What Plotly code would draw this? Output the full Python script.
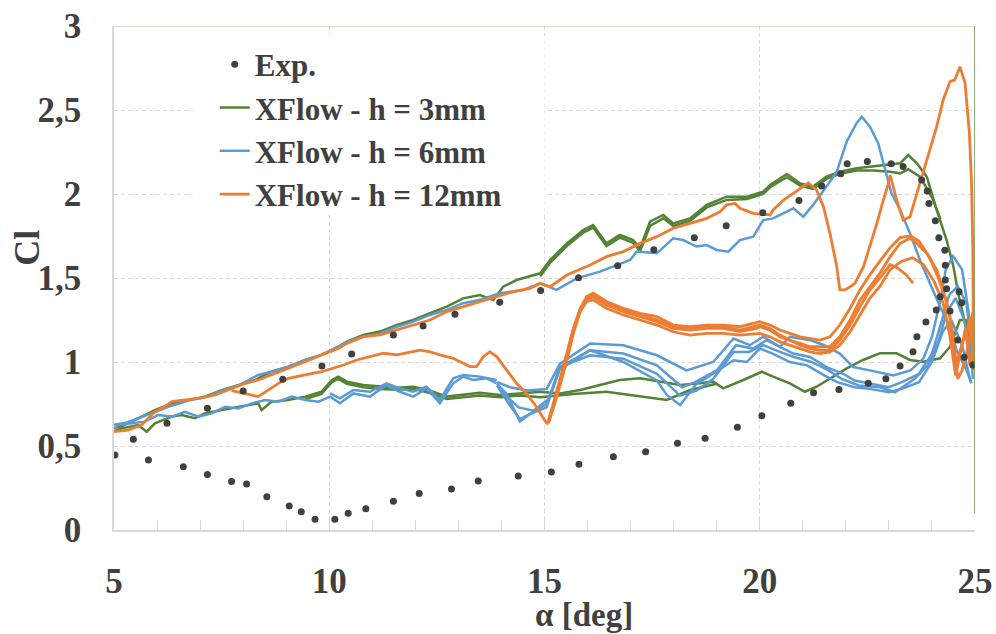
import plotly.graph_objects as go

# ---------------- Experimental data ----------------
exp_alpha = [5.45, 6.23, 7.17, 8.00, 8.92, 9.83, 10.52, 11.49, 12.18, 12.92, 13.96, 14.91, 15.79, 16.70,
             17.54, 18.48, 19.22, 20.07, 20.91, 21.44, 21.88, 22.03, 22.50, 23.05, 23.33, 23.76, 23.89,
             23.93, 24.08, 24.16, 24.30, 24.31, 24.31, 24.34, 24.19, 24.63, 24.69, 24.42, 24.60, 24.75,
             24.95,
             24.10, 23.86, 23.65, 23.56, 23.26, 22.93, 22.52, 21.84, 21.25, 20.72, 20.05, 19.48, 18.73,
             18.09, 17.35, 16.60, 15.80, 15.16, 14.39, 13.46, 12.84, 12.09, 11.49, 10.85, 10.44, 10.13,
             9.67, 9.35, 9.07, 8.55, 8.08, 7.73, 7.17, 6.61, 5.80, 5.02]
exp_cl = [0.54, 0.635, 0.724, 0.827, 0.897, 0.976, 1.048, 1.161, 1.214, 1.284, 1.355, 1.425, 1.502, 1.573,
          1.668, 1.74, 1.811, 1.889, 1.962, 2.048, 2.121, 2.18, 2.194, 2.18, 2.163, 2.083, 2.018,
          1.944, 1.841, 1.74, 1.665, 1.576, 1.488, 1.436, 1.389, 1.418, 1.353, 1.303, 1.131, 1.028,
          0.982,
          1.31, 1.238, 1.151, 1.061, 0.976, 0.901, 0.873, 0.837, 0.817, 0.754, 0.68, 0.611, 0.546,
          0.516, 0.466, 0.436, 0.391, 0.345, 0.321, 0.292, 0.244, 0.218, 0.171, 0.127, 0.099, 0.064,
          0.064, 0.109, 0.143, 0.198, 0.274, 0.288, 0.33, 0.377, 0.417, 0.446]

# ---------------- XFlow h = 3mm (green) ----------------
g_up_a = [4.98, 5.2, 5.56, 5.95, 6.34, 6.73, 7.11, 7.50, 7.89, 8.28, 8.66, 9.05, 9.44, 9.82, 10.21, 10.41,
          10.79, 11.18, 11.57, 11.95, 12.34, 12.73, 13.11, 13.50, 13.81, 14.04, 14.35, 14.66, 14.90, 15.13,
          15.52, 15.90, 16.13, 16.44, 16.75, 17.06, 17.22, 17.45, 17.76, 17.99, 18.38, 18.77, 19.23, 19.70,
          20.08, 20.24, 20.63, 20.94, 21.24, 21.55, 21.86, 22.25, 22.64, 23.03, 23.26, 23.45, 23.65, 23.88,
          24.11, 24.34, 24.50, 24.61, 24.73, 24.84, 24.95]
g_up_c = [0.605, 0.62, 0.665, 0.714, 0.754, 0.774, 0.794, 0.833, 0.863, 0.893, 0.942, 0.972, 1.012, 1.042,
          1.091, 1.121, 1.161, 1.181, 1.22, 1.25, 1.29, 1.329, 1.379, 1.399, 1.369, 1.448, 1.488, 1.508,
          1.528, 1.607, 1.706, 1.786, 1.815, 1.706, 1.756, 1.726, 1.677, 1.835, 1.875, 1.825, 1.855, 1.935,
          1.984, 1.984, 2.014, 2.054, 2.119, 2.063, 2.044, 2.103, 2.133, 2.153, 2.163, 2.177, 2.183, 2.232,
          2.183, 2.103, 1.905, 1.726, 1.567, 1.409, 1.27, 1.151, 1.10]
g_up2_a = [14.90, 15.13, 15.52, 15.90, 16.13, 16.44, 16.75, 17.06, 17.22, 17.45, 17.76, 17.99, 18.38, 18.77,
           19.23, 19.70, 20.08, 20.24, 20.63, 20.94, 21.24, 21.55, 21.86, 22.25, 22.64, 23.03, 23.26, 23.45,
           23.72, 24.0, 24.2]
g_up2_c = [1.51, 1.59, 1.69, 1.77, 1.80, 1.69, 1.74, 1.71, 1.66, 1.81, 1.855, 1.81, 1.84, 1.92,
           1.965, 1.97, 2.00, 2.04, 2.10, 2.05, 2.03, 2.09, 2.12, 2.14, 2.14, 2.133, 2.123, 2.147,
           2.103, 1.98, 1.85]
g_lo_a = [24.95, 24.80, 24.65, 24.57, 24.42, 24.19, 23.80, 23.49, 23.18, 22.79, 22.40, 22.02, 21.63, 21.32,
          21.05, 20.70, 20.31, 20.05, 19.62, 19.15, 18.92, 18.61, 18.15, 17.68, 17.22, 16.75, 16.29, 15.83,
          15.36, 14.90, 14.43, 13.97, 13.50, 13.11, 12.73, 12.34, 11.95, 11.57, 11.18, 10.79, 10.41, 10.21,
          10.06, 9.82, 9.44, 9.05, 8.66, 8.43, 8.35, 7.89, 7.50, 7.11, 6.88, 6.57, 6.34, 5.95, 5.76, 5.56,
          5.18, 4.98]
g_lo_c = [1.10, 1.25, 1.25, 1.19, 1.091, 1.022, 1.002, 1.012, 1.052, 1.052, 1.012, 0.962, 0.903, 0.853,
          0.823, 0.873, 0.913, 0.942, 0.893, 0.843, 0.883, 0.873, 0.863, 0.883, 0.903, 0.893, 0.863, 0.833,
          0.813, 0.823, 0.813, 0.804, 0.817, 0.804, 0.794, 0.829, 0.853, 0.847, 0.853, 0.863, 0.883, 0.913,
          0.893, 0.823, 0.794, 0.774, 0.764, 0.714, 0.754, 0.734, 0.714, 0.694, 0.665, 0.685, 0.675, 0.635,
          0.585, 0.625, 0.605, 0.585]
g_lo2_a = [19.0, 18.38, 17.84, 17.22, 16.44, 15.67, 14.90, 14.43, 13.97, 13.50, 13.11, 12.73, 12.34, 11.95,
           11.57, 11.18, 10.79, 10.41, 10.21, 10.06, 9.82, 9.44]
g_lo2_c = [0.87, 0.833, 0.774, 0.794, 0.823, 0.81, 0.79, 0.80, 0.79, 0.80, 0.79, 0.78, 0.815, 0.84,
           0.835, 0.84, 0.85, 0.87, 0.90, 0.88, 0.81, 0.78]

# ---------------- XFlow h = 6mm (blue) ----------------
b_up_a = [4.98, 5.3, 5.56, 5.95, 6.34, 6.73, 7.11, 7.50, 7.89, 8.35, 8.66, 9.05, 9.44, 9.82, 10.21, 10.41,
          10.79, 11.18, 11.57, 11.95, 12.34, 12.73, 13.11, 13.50, 13.96, 14.51, 14.90, 15.28, 15.75, 16.29,
          16.68, 16.99, 17.14, 17.61, 17.99, 18.22, 18.53, 18.77, 19.00, 19.27, 19.54, 19.85, 20.08, 20.31,
          20.63, 20.78, 21.01, 21.24, 21.55, 21.79, 22.02, 22.25, 22.37, 22.56, 22.75, 22.91, 23.06, 23.26,
          23.49, 23.72, 23.95, 24.19, 24.42, 24.57, 24.80, 24.92]
b_up_c = [0.625, 0.64, 0.665, 0.704, 0.74, 0.77, 0.79, 0.83, 0.86, 0.923, 0.942, 0.972, 1.012, 1.042,
          1.09, 1.12, 1.15, 1.17, 1.21, 1.24, 1.28, 1.31, 1.35, 1.37, 1.409, 1.429, 1.468, 1.429, 1.498,
          1.538, 1.577, 1.607, 1.657, 1.647, 1.736, 1.726, 1.687, 1.696, 1.667, 1.657, 1.726, 1.746, 1.845,
          1.855, 1.895, 1.915, 1.865, 1.935, 2.044, 2.133, 2.312, 2.421, 2.46, 2.401, 2.302, 2.143, 2.004,
          1.905, 1.766, 1.607, 1.468, 1.329, 1.21, 1.071, 0.952, 0.873]
b_l1_a = [24.95, 24.85, 24.70, 24.49, 24.32, 24.18, 24.0, 23.8, 23.5, 23.1, 22.56, 22.17, 21.86, 21.5,
          21.17, 20.70, 20.47, 20.08, 19.77, 19.39, 18.92, 18.30, 17.61, 16.83, 16.06, 15.36, 15.05, 14.6,
          14.2, 13.9]
b_l1_c = [0.90, 1.30, 1.55, 1.63, 1.55, 1.35, 1.15, 1.02, 0.95, 0.92, 0.95, 0.97, 1.05, 1.10,
          1.13, 1.15, 1.09, 1.15, 1.10, 1.14, 1.00, 0.95, 1.04, 1.10, 1.11, 0.99, 0.84, 0.83,
          0.85, 0.88]
b_l2_a = [24.97, 24.80, 24.60, 24.40, 24.20, 24.0, 23.7, 23.3, 23.0, 22.56, 22.2, 21.94, 21.55, 21.17,
          20.78, 20.47, 20.16, 19.85, 19.45, 19.0, 18.5, 18.2, 17.61, 16.83, 16.06, 15.5, 15.36, 15.1,
          14.74, 14.4, 14.1, 13.9]
b_l2_c = [1.00, 1.35, 1.45, 1.40, 1.22, 1.05, 0.93, 0.88, 0.85, 0.87, 0.89, 0.93, 0.97, 1.03,
          1.05, 1.09, 1.13, 1.08, 1.10, 0.95, 0.88, 0.85, 0.98, 1.05, 1.07, 0.98, 0.96, 0.78,
          0.71, 0.73, 0.80, 0.87]
b_l3_a = [24.95, 24.75, 24.55, 24.35, 24.15, 23.9, 23.6, 23.14, 22.8, 22.3, 21.9, 21.6, 21.2, 20.8,
          20.47, 20.08, 19.75, 19.39, 18.92, 18.53, 18.15, 17.61, 16.83, 16.06, 15.36, 15.05, 14.66, 14.43,
          14.2, 13.9]
b_l3_c = [0.95, 1.25, 1.38, 1.30, 1.12, 0.98, 0.90, 0.82, 0.85, 0.86, 0.90, 0.95, 1.00, 1.03,
          1.06, 1.10, 1.06, 1.06, 0.90, 0.83, 0.80, 0.93, 1.02, 1.04, 0.97, 0.75, 0.69, 0.66,
          0.74, 0.86]
b_l4_a = [24.9, 24.7, 24.45, 24.25, 24.0, 23.7, 23.3, 23.0, 22.56, 22.2, 21.8, 21.5, 21.1, 20.7,
          20.3, 20.0, 19.7, 19.39, 18.92, 18.53, 18.15, 17.84, 17.61, 16.83, 16.06, 15.36, 15.05, 14.66,
          14.43, 14.12, 13.9]
b_l4_c = [0.88, 1.10, 1.25, 1.18, 1.00, 0.88, 0.84, 0.82, 0.84, 0.85, 0.88, 0.92, 0.98, 1.00,
          1.05, 1.08, 1.00, 1.01, 0.93, 0.87, 0.744, 0.804, 0.89, 1.00, 1.07, 0.97, 0.73, 0.69,
          0.645, 0.81, 0.87]
b_lc_a = [13.89, 13.66, 13.34, 13.11, 12.88, 12.57, 12.26, 11.95, 11.64, 11.33, 10.95, 10.56, 10.25, 10.02,
          9.75, 9.44, 9.13, 8.82, 8.51, 8.20, 7.89, 7.58, 7.27, 6.96, 6.65, 6.34, 6.03, 5.72, 5.41, 5.10,
          4.98]
b_lc_c = [0.873, 0.903, 0.893, 0.913, 0.873, 0.754, 0.843, 0.794, 0.823, 0.863, 0.794, 0.813, 0.754, 0.794,
          0.764, 0.774, 0.794, 0.764, 0.774, 0.754, 0.724, 0.734, 0.694, 0.675, 0.704, 0.675, 0.685, 0.645,
          0.635, 0.625, 0.60]
b_lc2_a = [13.89, 13.50, 13.11, 12.88, 12.57, 12.26, 11.95, 11.64, 11.33, 10.95, 10.56, 10.25, 10.02]
b_lc2_c = [0.893, 0.913, 0.923, 0.903, 0.774, 0.853, 0.823, 0.843, 0.873, 0.823, 0.833, 0.784, 0.813]

# ---------------- XFlow h = 12mm (orange) ----------------
o_up_a = [4.98, 5.33, 5.64, 5.95, 6.18, 6.34, 6.65, 6.96, 7.35, 7.73, 8.04, 8.35, 8.66, 9.05, 9.44, 9.82,
          10.21, 10.41, 10.79, 11.18, 11.57, 11.95, 12.34, 12.73, 13.11, 13.50, 13.89, 14.28, 14.66, 14.90,
          15.13, 15.52, 16.06, 16.44, 16.83, 17.22, 17.61, 17.99, 18.38, 18.77, 19.08, 19.23, 19.43, 19.54,
          19.85, 20.24, 20.31, 20.55, 20.78, 21.01, 21.13, 21.32, 21.48, 21.63, 21.79, 21.86, 21.98, 22.10,
          22.21, 22.41, 22.56, 22.72, 22.87, 22.99, 23.03, 23.18, 23.33, 23.49, 23.65, 23.88, 24.11, 24.26,
          24.42, 24.53, 24.65, 24.77, 24.87, 24.92, 24.95, 24.96, 24.97]
o_up_c = [0.585, 0.595, 0.625, 0.704, 0.734, 0.764, 0.774, 0.784, 0.804, 0.843, 0.873, 0.893, 0.923, 0.962,
          1.002, 1.042, 1.081, 1.111, 1.151, 1.161, 1.19, 1.22, 1.25, 1.30, 1.329, 1.359, 1.389, 1.419,
          1.438, 1.468, 1.448, 1.518, 1.577, 1.627, 1.657, 1.706, 1.746, 1.796, 1.825, 1.855, 1.895, 1.935,
          1.944, 1.915, 1.885, 1.875, 1.905, 1.964, 2.004, 2.044, 2.067, 2.024, 1.925, 1.766, 1.567, 1.429,
          1.429, 1.448, 1.468, 1.567, 1.687, 1.825, 1.964, 2.063, 2.113, 1.964, 1.845, 1.865, 2.004, 2.202,
          2.401, 2.56, 2.669, 2.679, 2.758, 2.659, 2.361, 2.063, 1.667, 1.171, 0.95]
o_l1_a = [24.97, 24.88, 24.80, 24.73, 24.57, 24.50, 24.42, 24.26, 24.11, 23.88, 23.65, 23.49, 23.26, 23.03,
          22.79, 22.56, 22.33, 22.10, 21.86, 21.63, 21.40, 21.17, 20.94, 20.78, 20.47, 20.24, 20.0, 19.93,
          19.54, 19.15, 18.77, 18.38, 17.99, 17.61, 17.22, 16.83, 16.44, 16.13, 15.98, 15.83, 15.67, 15.52,
          15.36, 15.20, 15.09]
o_l1_c = [1.0, 1.27, 1.15, 1.131, 0.992, 1.071, 1.27, 1.429, 1.548, 1.647, 1.706, 1.736, 1.706, 1.627,
          1.528, 1.448, 1.369, 1.25, 1.151, 1.091, 1.091, 1.091, 1.111, 1.121, 1.151, 1.19, 1.21, 1.20,
          1.181, 1.20, 1.20, 1.19, 1.20, 1.24, 1.27, 1.30, 1.339, 1.389, 1.369, 1.309, 1.19, 1.032,
          0.873, 0.734, 0.635]
o_l2_a = [24.95, 24.85, 24.70, 24.60, 24.50, 24.35, 24.15, 23.95, 23.70, 23.50, 23.26, 23.03, 22.79, 22.56,
          22.33, 22.10, 21.86, 21.63, 21.40, 21.17, 20.94, 20.70, 20.47, 20.24, 20.0, 19.54, 19.15, 18.77,
          18.38, 17.99, 17.61, 17.22, 16.83, 16.44, 16.13, 15.98, 15.83, 15.67, 15.52, 15.36, 15.20, 15.09]
o_l2_c = [1.30, 1.10, 0.95, 0.90, 1.15, 1.35, 1.50, 1.62, 1.72, 1.75, 1.74, 1.68, 1.60, 1.52,
          1.43, 1.32, 1.22, 1.15, 1.13, 1.14, 1.15, 1.17, 1.19, 1.22, 1.24, 1.21, 1.22, 1.22,
          1.21, 1.22, 1.27, 1.29, 1.32, 1.36, 1.41, 1.39, 1.32, 1.20, 1.05, 0.90, 0.75, 0.65]
o_l3_a = [24.97, 24.88, 24.78, 24.66, 24.55, 24.42, 24.26, 24.05, 23.80, 23.55, 23.30, 23.03, 22.79, 22.56,
          22.33, 22.10, 21.86, 21.63, 21.40, 21.17, 20.94, 20.70, 20.47, 20.24, 20.0, 19.54, 19.15, 18.77,
          18.38, 17.99, 17.61, 17.22, 16.83, 16.44, 16.13, 15.98, 15.83, 15.67, 15.52, 15.36, 15.20, 15.09]
o_l3_c = [1.10, 0.98, 1.20, 1.05, 0.92, 1.15, 1.35, 1.48, 1.58, 1.62, 1.60, 1.55, 1.45, 1.38,
          1.28, 1.18, 1.10, 1.06, 1.05, 1.06, 1.08, 1.10, 1.12, 1.15, 1.17, 1.16, 1.17, 1.17,
          1.16, 1.18, 1.22, 1.25, 1.28, 1.32, 1.37, 1.36, 1.30, 1.17, 1.01, 0.86, 0.72, 0.64]
o_l4_a = [23.56, 23.40, 23.20, 23.03, 22.79, 22.56, 22.33, 22.10, 21.86, 21.63, 21.40, 21.17, 20.94, 20.70,
          20.47, 20.24, 20.0, 19.54, 19.15, 18.77, 18.38, 17.99, 17.61, 17.22, 16.83, 16.44, 16.13, 15.98,
          15.83, 15.67, 15.52, 15.36, 15.20, 15.09]
o_l4_c = [1.47, 1.52, 1.56, 1.58, 1.50, 1.43, 1.33, 1.22, 1.13, 1.07, 1.07, 1.08, 1.10, 1.13,
          1.16, 1.20, 1.22, 1.19, 1.21, 1.21, 1.20, 1.21, 1.25, 1.28, 1.31, 1.35, 1.40, 1.38,
          1.31, 1.19, 1.04, 0.88, 0.74, 0.64]
o_lc_a = [15.09, 15.05, 14.81, 14.58, 14.35, 14.12, 13.89, 13.73, 13.58, 13.42, 13.27, 13.11, 12.88, 12.57,
          12.34, 12.11, 11.80, 11.57, 11.26, 10.95, 10.64, 10.33, 10.21, 9.82, 9.44, 9.05, 8.82, 8.35,
          8.04, 7.73]
o_lc_c = [0.635, 0.635, 0.734, 0.813, 0.873, 0.952, 1.032, 1.061, 1.032, 0.972, 0.972, 0.992, 1.022, 1.042,
          1.061, 1.071, 1.052, 1.042, 1.052, 1.032, 1.012, 0.982, 0.972, 0.942, 0.923, 0.903, 0.873, 0.794,
          0.813, 0.83]

# ---------------- Axis ticks ----------------
x_ticks = [5, 10, 15, 20, 25]
y_ticks = [0, 0.5, 1, 1.5, 2, 2.5, 3]
y_labels = ["0", "0,5", "1", "1,5", "2", "2,5", "3"]

GREEN = "#548235"
BLUE = "#5B9BD5"
ORANGE = "#ED7D31"
DARK = "#404040"
FONT = "Liberation Serif"


def join(*segs):
    xs, ys = [], []
    for a, c in segs:
        xs += list(a) + [None]
        ys += list(c) + [None]
    return xs, ys


fig = go.Figure()

gx, gy = join((g_up_a, g_up_c), (g_up2_a, g_up2_c), (g_lo_a, g_lo_c), (g_lo2_a, g_lo2_c))
fig.add_trace(go.Scatter(x=gx, y=gy, mode="lines", name="XFlow - h = 3mm",
                         line=dict(color=GREEN, width=2.5), legendrank=2))

bx, by = join((b_up_a, b_up_c), (b_l1_a, b_l1_c), (b_l2_a, b_l2_c), (b_l3_a, b_l3_c),
              (b_l4_a, b_l4_c), (b_lc_a, b_lc_c), (b_lc2_a, b_lc2_c))
fig.add_trace(go.Scatter(x=bx, y=by, mode="lines", name="XFlow - h = 6mm",
                         line=dict(color=BLUE, width=2.5), legendrank=3))

ox, oy = join((o_up_a, o_up_c), (o_l1_a, o_l1_c), (o_l2_a, o_l2_c), (o_l3_a, o_l3_c),
              (o_l4_a, o_l4_c), (o_lc_a, o_lc_c))
fig.add_trace(go.Scatter(x=ox, y=oy, mode="lines", name="XFlow - h = 12mm",
                         line=dict(color=ORANGE, width=2.8), legendrank=4))

fig.add_trace(go.Scatter(x=exp_alpha, y=exp_cl, mode="markers", name="Exp.",
                         marker=dict(color=DARK, size=7), legendrank=1))

fig.update_layout(
    width=996, height=634,
    margin=dict(l=114, r=21, t=26, b=104, autoexpand=False),
    paper_bgcolor="white", plot_bgcolor="white",
    font=dict(family=FONT, color=DARK, size=31, weight="bold"),
    showlegend=True,
    legend=dict(x=0.117, y=0.977, xanchor="left", yanchor="top",
                bgcolor="rgba(0,0,0,0)", font=dict(size=31, family=FONT, color=DARK, weight="bold"),
                tracegroupgap=0, itemwidth=30),
    xaxis=dict(range=[5, 25], tickvals=x_ticks, showgrid=True, gridcolor="#D9D9D9",
               griddash="4px,3px", gridwidth=1, showline=True, linecolor="#D9D9D9", linewidth=1.5,
               ticks="inside", ticklen=10, tickcolor="#D9D9D9", automargin=False,
               minor=dict(dtick=1, ticks="inside", ticklen=10, tickcolor="#D9D9D9", showgrid=False),
               tickfont=dict(size=35, family=FONT, color=DARK, weight="bold"),
               ticklabelstandoff=19, zeroline=False, fixedrange=True),
    yaxis=dict(range=[0, 3], tickvals=y_ticks, ticktext=y_labels, showgrid=True, gridcolor="#D9D9D9",
               griddash="4px,3px", gridwidth=1, showline=True, linecolor="#D9D9D9", linewidth=1.5,
               ticks="", tickfont=dict(size=35, family=FONT, color=DARK, weight="bold"), automargin=False,
               ticklabelstandoff=24, zeroline=False, fixedrange=True),
    shapes=[
        dict(type="rect", xref="x", yref="y", x0=6.83, x1=15.0, y0=1.875, y1=2.946,
             fillcolor="white", line=dict(width=0), layer="between"),
        dict(type="line", xref="x", yref="y", x0=5, x1=25, y0=3, y1=3,
             line=dict(color="#A8C596", width=1.2), layer="above"),
        dict(type="line", xref="x", yref="y", x0=25, x1=25, y0=0.1, y1=3,
             line=dict(color="#5E8F45", width=1.4), layer="above"),
    ],
    annotations=[
        dict(text="α [deg]", xref="paper", yref="paper", x=0.546, y=-0.168, xanchor="center",
             yanchor="middle", showarrow=False,
             font=dict(size=33, family=FONT, color=DARK, weight="bold")),
        dict(text="Cl", xref="paper", yref="paper", x=-0.101, y=0.56, xanchor="center",
             yanchor="middle", showarrow=False, textangle=-90,
             font=dict(size=36, family=FONT, color=DARK, weight="bold")),
    ],
)

fig.write_html("out.html")
